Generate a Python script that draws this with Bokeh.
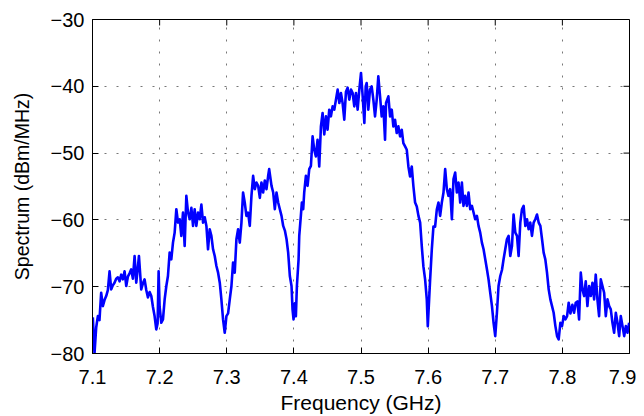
from bokeh.plotting import figure
from bokeh.models import Range1d, FixedTicker, CustomJSTickFormatter, ColumnDataSource
from bokeh.embed import file_html
from bokeh.resources import INLINE

freq_ghz = [
    7.1005, 7.1030, 7.1055, 7.1080, 7.1104, 7.1129, 7.1154, 7.1179, 7.1204, 7.1229, 7.1254, 7.1279,
    7.1303, 7.1328, 7.1353, 7.1378, 7.1403, 7.1428, 7.1453, 7.1478, 7.1503, 7.1527, 7.1552, 7.1577,
    7.1602, 7.1627, 7.1652, 7.1677, 7.1692, 7.1726, 7.1751, 7.1776, 7.1801, 7.1826, 7.1851, 7.1876,
    7.1900, 7.1925, 7.1950, 7.1970, 7.1985, 7.2000, 7.2025,
    7.2050, 7.2075, 7.2100, 7.2124, 7.2149, 7.2174, 7.2199, 7.2224, 7.2249, 7.2274, 7.2299, 7.2323,
    7.2348, 7.2373, 7.2398, 7.2423, 7.2448, 7.2473, 7.2498, 7.2522, 7.2547, 7.2572, 7.2597, 7.2622,
    7.2647, 7.2672, 7.2697, 7.2721, 7.2746, 7.2771, 7.2796, 7.2821, 7.2846, 7.2871, 7.2896, 7.2920,
    7.2945, 7.2970, 7.2995, 7.3020, 7.3045, 7.3070,
    7.3094, 7.3119, 7.3144, 7.3169, 7.3194, 7.3219, 7.3243, 7.3268, 7.3293, 7.3318, 7.3343, 7.3368,
    7.3393, 7.3418, 7.3443, 7.3468, 7.3493, 7.3517, 7.3542, 7.3567, 7.3592, 7.3617, 7.3632, 7.3667,
    7.3692, 7.3716, 7.3741, 7.3766, 7.3791, 7.3816, 7.3841, 7.3866, 7.3891, 7.3915, 7.3940, 7.3965,
    7.3980, 7.3995, 7.4015, 7.4030,
    7.4045, 7.4070, 7.4080, 7.4104, 7.4119, 7.4139, 7.4154, 7.4179, 7.4204, 7.4229, 7.4254, 7.4279,
    7.4303, 7.4328, 7.4353, 7.4378, 7.4403, 7.4428, 7.4453, 7.4478, 7.4502, 7.4527, 7.4552, 7.4577,
    7.4602, 7.4627, 7.4652, 7.4677, 7.4701, 7.4726, 7.4751, 7.4776, 7.4801, 7.4826, 7.4851, 7.4876,
    7.4900, 7.4925, 7.4950, 7.4975, 7.5000, 7.5025, 7.5050,
    7.5070, 7.5085, 7.5109, 7.5134, 7.5159, 7.5184, 7.5209, 7.5234, 7.5258, 7.5284, 7.5308, 7.5333,
    7.5358, 7.5373, 7.5408, 7.5433, 7.5458, 7.5482, 7.5507, 7.5532, 7.5557, 7.5582, 7.5607, 7.5631,
    7.5657, 7.5682, 7.5706, 7.5731, 7.5756, 7.5781, 7.5806, 7.5831, 7.5856, 7.5881, 7.5906, 7.5930,
    7.5955, 7.5980, 7.5995, 7.6015, 7.6030, 7.6055, 7.6079,
    7.6104, 7.6130, 7.6154, 7.6179, 7.6204, 7.6229, 7.6254, 7.6279, 7.6303, 7.6328, 7.6354, 7.6378,
    7.6403, 7.6428, 7.6453, 7.6478, 7.6503, 7.6527, 7.6552, 7.6577, 7.6602, 7.6627, 7.6652, 7.6677,
    7.6701, 7.6727, 7.6751, 7.6776, 7.6801, 7.6826, 7.6851, 7.6876, 7.6900, 7.6925, 7.6951, 7.6975,
    7.7000, 7.7025, 7.7049, 7.7075,
    7.7100, 7.7124, 7.7149, 7.7174, 7.7199, 7.7224, 7.7249, 7.7273, 7.7299, 7.7324, 7.7348, 7.7373,
    7.7398, 7.7423, 7.7448, 7.7473, 7.7497, 7.7522, 7.7547, 7.7572, 7.7597, 7.7622, 7.7647, 7.7672,
    7.7697, 7.7721, 7.7746, 7.7771, 7.7796, 7.7821, 7.7846, 7.7870, 7.7896, 7.7921, 7.7945, 7.7970,
    7.7995, 7.8020, 7.8045, 7.8070, 7.8094, 7.8120,
    7.8149, 7.8174, 7.8199, 7.8224, 7.8249, 7.8274, 7.8299, 7.8324, 7.8348, 7.8373, 7.8398, 7.8423,
    7.8448, 7.8473, 7.8497, 7.8522, 7.8547, 7.8572, 7.8597, 7.8622, 7.8647, 7.8672, 7.8697, 7.8721,
    7.8746, 7.8771, 7.8796, 7.8821, 7.8846, 7.8870, 7.8896, 7.8921, 7.8945, 7.8970, 7.8995,
]

spectrum_dbm = [
    -74.6, -80.0, -76.1, -74.4, -75.0, -70.9, -72.9, -72.0, -71.4, -70.5, -67.7, -70.4,
    -69.8, -69.4, -68.8, -68.6, -69.2, -68.2, -68.9, -67.7, -69.9, -68.5, -68.0, -67.4,
    -68.8, -65.4, -69.4, -67.0, -65.4, -70.4, -69.5, -68.9, -70.5, -71.6, -70.8, -71.4,
    -73.0, -74.4, -76.4, -75.5, -67.7, -73.0, -75.4,
    -74.9, -71.9, -69.9, -68.4, -64.9, -65.9, -63.4, -61.9, -58.4, -60.4, -59.9, -62.4,
    -58.9, -63.9, -56.4, -58.9, -59.9, -58.2, -60.9, -58.4, -60.9, -58.9, -59.9, -57.7,
    -60.4, -59.6, -60.9, -64.4, -61.4, -62.4, -64.4, -65.4, -66.9, -67.9, -69.4, -71.9,
    -74.9, -76.9, -74.4, -74.0, -71.9, -69.9,
    -66.4, -67.9, -62.9, -61.4, -63.4, -60.4, -55.9, -57.4, -59.4, -58.9, -60.9, -56.4,
    -53.4, -55.4, -54.4, -54.9, -56.7, -54.4, -55.9, -54.1, -55.4, -53.4, -52.4, -54.9,
    -55.9, -58.4, -55.9, -57.4, -58.4, -59.4, -60.9, -61.6, -62.9, -64.9, -68.4, -69.9,
    -73.4, -74.9, -72.5, -74.4,
    -69.9, -65.9, -62.4, -59.4, -57.4, -58.4, -55.9, -53.4, -54.9, -52.4, -51.9, -47.5,
    -49.5, -50.5, -48.0, -52.0, -46.0, -44.0, -47.2, -44.5, -46.5, -43.5, -44.5, -43.0,
    -43.5, -42.0, -40.5, -42.5, -41.0, -42.5, -45.0, -40.8, -40.2, -42.0, -40.5, -41.0,
    -43.0, -41.0, -43.5, -40.5, -38.0, -41.5, -45.5,
    -40.0, -39.5, -43.5, -40.5, -40.0, -42.0, -44.5, -42.0, -38.5, -41.5, -44.5, -43.0,
    -48.0, -42.5, -41.5, -44.5, -43.5, -46.0, -45.0, -47.0, -46.0, -47.5, -46.5, -48.5,
    -49.0, -49.5, -52.0, -53.5, -52.0, -55.0, -57.4, -58.0, -59.4, -60.4, -64.0, -67.0,
    -68.9, -71.9, -75.9, -71.9, -68.9, -64.4, -61.0,
    -61.0, -58.4, -57.4, -59.4, -57.4, -55.9, -52.4, -55.4, -56.4, -55.4, -59.9, -53.9,
    -52.9, -55.9, -54.4, -57.4, -54.4, -57.9, -56.4, -57.9, -55.9, -58.4, -57.9, -58.9,
    -59.9, -59.4, -60.9, -61.9, -63.4, -64.4, -65.9, -67.4, -68.9, -70.9, -72.9, -75.4,
    -77.4, -73.9, -69.9, -68.4,
    -67.5, -65.9, -64.4, -62.9, -62.4, -65.4, -63.9, -59.2, -61.9, -62.4, -65.4, -60.4,
    -58.4, -57.9, -60.9, -59.9, -61.4, -60.4, -62.4, -60.4, -59.9, -59.2, -60.4, -60.9,
    -62.9, -64.9, -65.9, -67.9, -70.4, -71.9, -72.9, -73.9, -75.9, -77.4, -77.9, -75.4,
    -75.9, -74.4, -74.9, -74.4, -72.4, -74.0,
    -72.7, -73.9, -72.4, -72.2, -74.9, -67.9, -70.4, -71.4, -69.2, -72.9, -69.9, -71.4,
    -69.4, -71.9, -68.2, -71.9, -74.4, -68.9, -69.9, -70.9, -74.4, -71.9, -72.9, -73.4,
    -75.4, -76.9, -73.9, -75.4, -77.4, -74.4, -75.9, -77.4, -75.9, -76.9, -75.4,
]

x_ticks = [7.1, 7.2, 7.3, 7.4, 7.5, 7.6, 7.7, 7.8, 7.9]
y_ticks = [-80, -70, -60, -50, -40, -30]
x_label = "Frequency (GHz)"
y_label = "Spectrum (dBm/MHz)"

FONT = "Liberation Sans"
X_MIN, X_MAX = 7.1, 7.9
Y_MIN, Y_MAX = -80, -30

p = figure(width=636, height=416, output_backend="svg", toolbar_location=None,
           x_range=Range1d(X_MIN, X_MAX), y_range=Range1d(Y_MIN, Y_MAX),
           min_border_left=92, min_border_right=7, min_border_top=19, min_border_bottom=62,
           x_axis_label=x_label, y_axis_label=y_label)
p.background_fill_color = "white"
p.border_fill_color = "white"
p.outline_line_color = "black"
p.outline_line_width = 1
p.outline_line_alpha = 1

x_fmt = CustomJSTickFormatter(code="return tick.toFixed(1);")
y_fmt = CustomJSTickFormatter(code="return tick.toFixed(0).replace('-', '\u2212');")

for ax, tk, fm in ((p.xaxis[0], x_ticks, x_fmt), (p.yaxis[0], y_ticks, y_fmt)):
    ax.ticker = FixedTicker(ticks=tk)
    ax.formatter = fm
    ax.major_tick_in = 6
    ax.major_tick_out = 0
    ax.minor_tick_line_color = None
    ax.axis_line_color = "black"
    ax.major_tick_line_color = "black"
    ax.major_label_text_font = FONT
    ax.major_label_text_font_size = "20px"
    ax.major_label_text_color = "black"
    ax.axis_label_text_font = FONT
    ax.axis_label_text_font_style = "normal"
    ax.axis_label_text_color = "black"

p.xaxis[0].axis_label_text_font_size = "21px"
p.yaxis[0].axis_label_text_font_size = "19.5px"
p.xaxis[0].major_label_standoff = 16
p.yaxis[0].major_label_standoff = 8
p.xaxis[0].axis_label_standoff = 4
p.yaxis[0].axis_label_standoff = 15

for g, tk in ((p.xgrid[0], x_ticks), (p.ygrid[0], y_ticks)):
    g.ticker = FixedTicker(ticks=tk)
    g.grid_line_color = "#777777"
    g.grid_line_dash = "2 10"
    g.grid_line_width = 1

# mirrored inward ticks on the top and right edges of the box (6 px long)
tick_len_y = 6 * (Y_MAX - Y_MIN) / 335.0
tick_len_x = 6 * (X_MAX - X_MIN) / 537.0
p.segment(x0=x_ticks, y0=[Y_MAX] * len(x_ticks), x1=x_ticks, y1=[Y_MAX - tick_len_y] * len(x_ticks),
          line_color="black", line_width=1)
p.segment(x0=[X_MAX] * len(y_ticks), y0=y_ticks, x1=[X_MAX - tick_len_x] * len(y_ticks), y1=y_ticks,
          line_color="black", line_width=1)

src = ColumnDataSource(data=dict(f=freq_ghz, s=spectrum_dbm))
p.line("f", "s", source=src, line_color="#0000FF", line_width=2.6, line_join="round")

open("out.html", "w").write(file_html(p, INLINE))
